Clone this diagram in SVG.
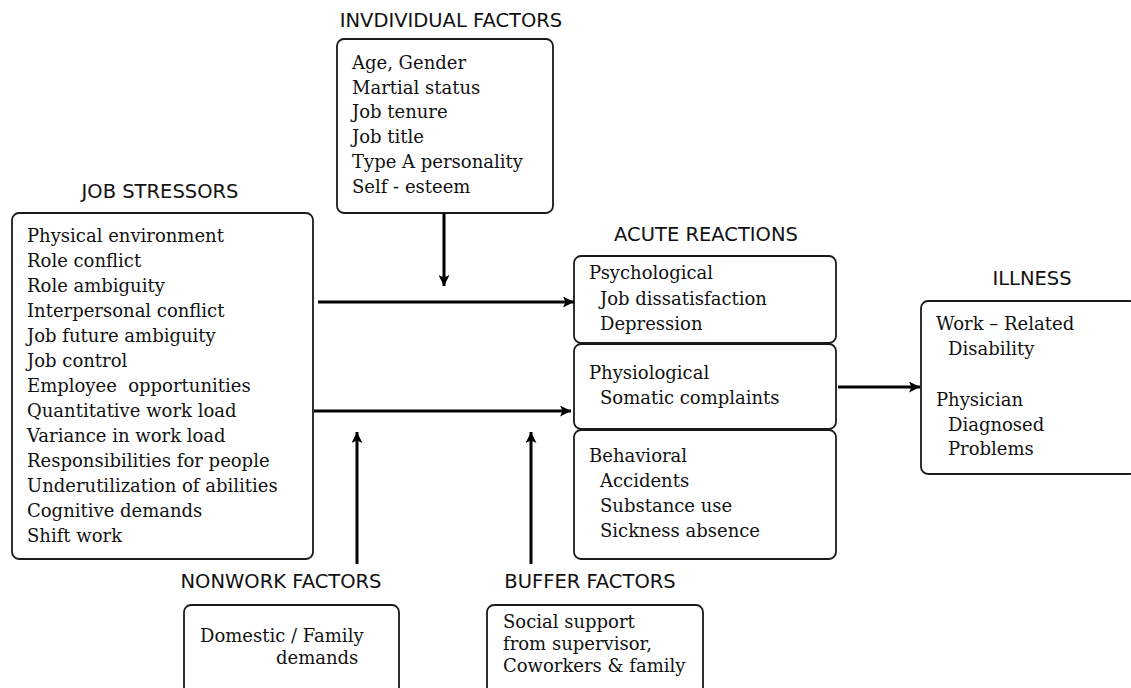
<svg xmlns="http://www.w3.org/2000/svg" width="1131" height="688" viewBox="0 0 1131 688">
  <style>
    .box { fill: #ffffff; stroke: #1a1a1a; stroke-width: 1.8; }
    .head { font-family: "DejaVu Sans", Verdana, sans-serif; font-size: 19.5px; fill: #111111; text-anchor: middle; }
    .item { font-family: "DejaVu Serif", "Liberation Serif", serif; font-size: 18px; fill: #111111; white-space: pre; }
    .conn { stroke: #000000; stroke-width: 3; fill: none; }
  </style>
  <defs>
    <marker id="arrow" markerUnits="userSpaceOnUse" markerWidth="12" markerHeight="11" refX="11" refY="5.5" orient="auto">
      <path d="M0,0 L11,5.5 L0,11 L2.5,5.5 z" fill="#000000"/>
    </marker>
  </defs>
  <rect width="1131" height="688" fill="#ffffff"/>

  <!-- Individual factors -->
  <g id="individual-factors">
    <text class="head" x="451" y="27">INVDIVIDUAL FACTORS</text>
    <rect class="box" x="337" y="39" width="216" height="174" rx="7"/>
    <text class="item" x="352" y="69">Age, Gender</text>
    <text class="item" x="352" y="94">Martial status</text>
    <text class="item" x="352" y="118">Job tenure</text>
    <text class="item" x="352" y="143">Job title</text>
    <text class="item" x="352" y="168">Type A personality</text>
    <text class="item" x="352" y="193">Self - esteem</text>
  </g>

  <!-- Job stressors -->
  <g id="job-stressors">
    <text class="head" x="160" y="198">JOB STRESSORS</text>
    <rect class="box" x="12" y="213" width="301" height="346" rx="7"/>
    <text class="item" x="27" y="242">Physical environment</text>
    <text class="item" x="27" y="267">Role conflict</text>
    <text class="item" x="27" y="292">Role ambiguity</text>
    <text class="item" x="27" y="317">Interpersonal conflict</text>
    <text class="item" x="27" y="342">Job future ambiguity</text>
    <text class="item" x="27" y="367">Job control</text>
    <text class="item" x="27" y="392">Employee  opportunities</text>
    <text class="item" x="27" y="417">Quantitative work load</text>
    <text class="item" x="27" y="442">Variance in work load</text>
    <text class="item" x="27" y="467">Responsibilities for people</text>
    <text class="item" x="27" y="492">Underutilization of abilities</text>
    <text class="item" x="27" y="517">Cognitive demands</text>
    <text class="item" x="27" y="542">Shift work</text>
  </g>

  <!-- Acute reactions -->
  <g id="acute-reactions">
    <text class="head" x="706" y="241">ACUTE REACTIONS</text>
    <rect class="box" x="574" y="256" width="262" height="87" rx="7"/>
    <rect class="box" x="574" y="344" width="262" height="85" rx="7"/>
    <rect class="box" x="574" y="430" width="262" height="129" rx="7"/>
    <text class="item" x="589" y="279">Psychological</text>
    <text class="item" x="600" y="305">Job dissatisfaction</text>
    <text class="item" x="600" y="330">Depression</text>
    <text class="item" x="589" y="379">Physiological</text>
    <text class="item" x="600" y="404">Somatic complaints</text>
    <text class="item" x="589" y="462">Behavioral</text>
    <text class="item" x="600" y="487">Accidents</text>
    <text class="item" x="600" y="512">Substance use</text>
    <text class="item" x="600" y="537">Sickness absence</text>
  </g>

  <!-- Illness -->
  <g id="illness">
    <text class="head" x="1032" y="285">ILLNESS</text>
    <rect class="box" x="921" y="301" width="216" height="173" rx="7"/>
    <text class="item" x="936" y="330">Work – Related</text>
    <text class="item" x="948" y="355">Disability</text>
    <text class="item" x="936" y="406">Physician</text>
    <text class="item" x="948" y="431">Diagnosed</text>
    <text class="item" x="948" y="455">Problems</text>
  </g>

  <!-- Nonwork factors -->
  <g id="nonwork-factors">
    <text class="head" x="281" y="588">NONWORK FACTORS</text>
    <rect class="box" x="184" y="605" width="215" height="100" rx="7"/>
    <text class="item" x="200" y="642">Domestic / Family</text>
    <text class="item" x="276" y="664">demands</text>
  </g>

  <!-- Buffer factors -->
  <g id="buffer-factors">
    <text class="head" x="590" y="588">BUFFER FACTORS</text>
    <rect class="box" x="487" y="605" width="216" height="100" rx="7"/>
    <text class="item" x="503" y="628">Social support</text>
    <text class="item" x="503" y="650">from supervisor,</text>
    <text class="item" x="503" y="672">Coworkers &amp; family</text>
  </g>

  <!-- Connectors -->
  <g id="connectors">
    <line class="conn" x1="444" y1="214" x2="444" y2="286" marker-end="url(#arrow)"/>
    <line class="conn" x1="318" y1="302" x2="574" y2="302" marker-end="url(#arrow)"/>
    <line class="conn" x1="314" y1="411" x2="571" y2="411" marker-end="url(#arrow)"/>
    <line class="conn" x1="357" y1="564" x2="357" y2="432" marker-end="url(#arrow)"/>
    <line class="conn" x1="531" y1="564" x2="531" y2="432" marker-end="url(#arrow)"/>
    <line class="conn" x1="838" y1="387" x2="920" y2="387" marker-end="url(#arrow)"/>
  </g>
</svg>
